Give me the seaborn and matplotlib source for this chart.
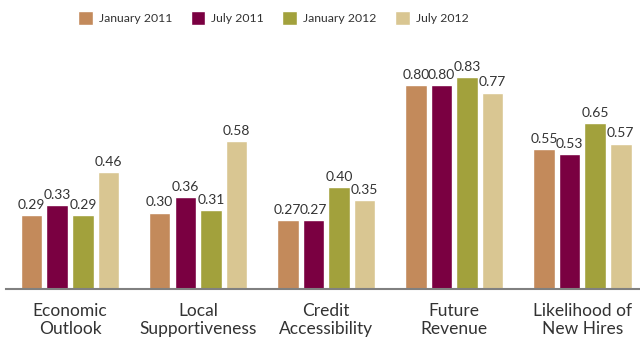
import matplotlib
matplotlib.use("Agg")
import matplotlib.pyplot as plt
import seaborn as sns
import pandas as pd

categories = ["Economic\nOutlook", "Local\nSupportiveness", "Credit\nAccessibility",
              "Future\nRevenue", "Likelihood of\nNew Hires"]
periods = ["January 2011", "July 2011", "January 2012", "July 2012"]
jan_2011 = [0.29, 0.30, 0.27, 0.80, 0.55]
jul_2011 = [0.33, 0.36, 0.27, 0.80, 0.53]
jan_2012 = [0.29, 0.31, 0.40, 0.83, 0.65]
jul_2012 = [0.46, 0.58, 0.35, 0.77, 0.57]
colors = ["#C38A5B", "#7A0041", "#A2A13C", "#D9C692"]

series = [jan_2011, jul_2011, jan_2012, jul_2012]
rows = []
for period, vals in zip(periods, series):
    for cat, v in zip(categories, vals):
        rows.append({"category": cat, "period": period, "value": v})
df = pd.DataFrame(rows)

sns.set_theme(style="white")
plt.rcParams["font.family"] = ["Lato", "DejaVu Sans"]
text_color = "#333333"

fig = plt.figure(figsize=(6.4, 3.41), dpi=100)
ax = fig.add_axes([6 / 640, 52 / 341, 634 / 640, 255 / 341])

sns.barplot(data=df, x="category", y="value", hue="period", order=categories,
            hue_order=periods, palette=colors, width=0.8, gap=0.16,
            saturation=1, ax=ax, legend=True)

for container in ax.containers:
    ax.bar_label(container, fmt="%.2f", padding=3, fontsize=10, color=text_color)

ax.set_ylim(0, 1.0)
ax.set_xlim(-0.5, 4.45)
ax.set_xlabel("")
ax.set_ylabel("")
ax.set_yticks([])
ax.tick_params(axis="x", length=0, pad=10, labelsize=12.5, labelcolor=text_color)
for lbl in ax.get_xticklabels():
    lbl.set_linespacing(1.2)
for side in ["top", "left", "right"]:
    ax.spines[side].set_visible(False)
ax.spines["bottom"].set_color("#808080")
ax.spines["bottom"].set_linewidth(1.5)

handles, labels = ax.get_legend_handles_labels()
ax.get_legend().remove()
fig.legend(handles, labels, loc="upper center", bbox_to_anchor=(0.427, 1.0),
           ncol=4, frameon=False, fontsize=8.8, handlelength=1.2, handleheight=1.35,
           handletextpad=0.5, columnspacing=1.5, labelcolor=text_color)

fig.savefig("out.png", dpi=100)
